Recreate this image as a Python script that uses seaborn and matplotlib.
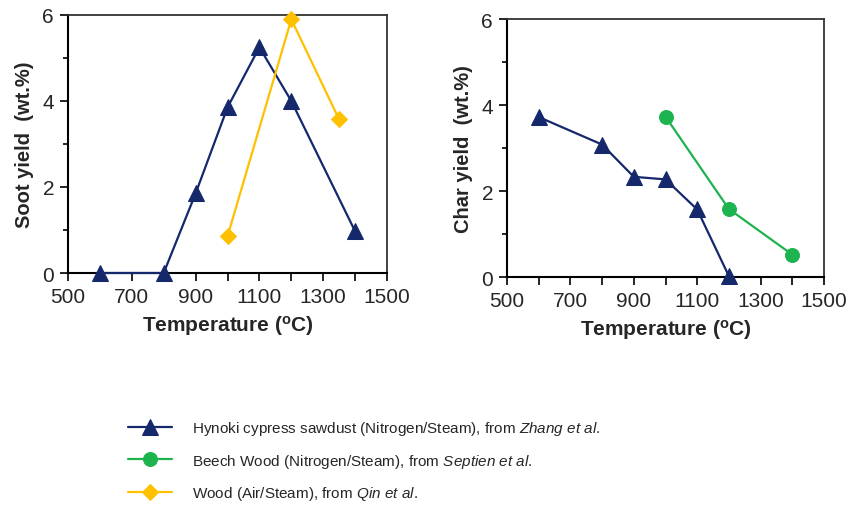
import matplotlib
matplotlib.use("Agg")
import matplotlib.pyplot as plt
from matplotlib.ticker import MultipleLocator
import pandas as pd
import seaborn as sns

# Soot yield data (wt.%) against temperature (°C)
soot_hynoki_temp = [600, 800, 900, 1000, 1100, 1200, 1400]
soot_hynoki_yield = [0.0, 0.0, 1.85, 3.85, 5.25, 4.0, 0.97]
soot_wood_temp = [1000, 1200, 1350]
soot_wood_yield = [0.85, 5.9, 3.57]

# Char yield data (wt.%) against temperature (°C)
char_hynoki_temp = [600, 800, 900, 1000, 1100, 1200]
char_hynoki_yield = [3.72, 3.08, 2.33, 2.27, 1.57, 0.02]
char_beech_temp = [1000, 1200, 1400]
char_beech_yield = [3.73, 1.58, 0.52]

series_labels = [
    r"Hynoki cypress sawdust (Nitrogen/Steam), from $\mathit{Zhang\ et\ al}$.",
    r"Beech Wood (Nitrogen/Steam), from $\mathit{Septien\ et\ al}$.",
    r"Wood (Air/Steam), from $\mathit{Qin\ et\ al}$.",
]
x_ticks = [500, 700, 900, 1100, 1300, 1500]
y_ticks = [0, 2, 4, 6]

NAVY = "#14286b"
GREEN = "#1db34f"
GOLD = "#ffc000"

sns.set_style("white")
plt.rcParams["font.family"] = ["Liberation Sans", "DejaVu Sans"]
plt.rcParams["mathtext.fontset"] = "custom"
plt.rcParams["mathtext.rm"] = "Liberation Sans"
plt.rcParams["mathtext.it"] = "Liberation Sans:italic"
plt.rcParams["mathtext.bf"] = "Liberation Sans:bold"

fig = plt.figure(figsize=(8.49, 5.06), dpi=100)
ax1 = fig.add_axes([68 / 849, 1 - 274 / 506, 319 / 849, 258 / 506])
ax2 = fig.add_axes([507 / 849, 1 - 278 / 506, 317 / 849, 258 / 506])


def draw(ax, x, y, color, marker, ms, label):
    df = pd.DataFrame({"T": x, "Y": y})
    sns.lineplot(data=df, x="T", y="Y", ax=ax, color=color, marker=marker,
                 markersize=ms, markeredgecolor=color, linewidth=1.6,
                 label=label, clip_on=False, zorder=3)


draw(ax1, soot_hynoki_temp, soot_hynoki_yield, NAVY, "^", 11, series_labels[0])
draw(ax1, soot_wood_temp, soot_wood_yield, GOLD, "D", 8, series_labels[2])
draw(ax2, char_hynoki_temp, char_hynoki_yield, NAVY, "^", 11, series_labels[0])
draw(ax2, char_beech_temp, char_beech_yield, GREEN, "o", 10, series_labels[1])

for ax, ylab in [(ax1, "Soot yield  (wt.%)"), (ax2, "Char yield  (wt.%)")]:
    ax.set_xlim(500, 1500)
    ax.set_ylim(0, 6)
    ax.set_xticks(x_ticks)
    ax.xaxis.set_minor_locator(MultipleLocator(100))
    ax.set_yticks(y_ticks)
    ax.yaxis.set_minor_locator(MultipleLocator(1))
    ax.tick_params(axis="both", which="major", direction="out", length=6,
                   width=1.2, color="black", labelsize=15, pad=4, bottom=True, left=True)
    ax.tick_params(axis="both", which="minor", direction="out", length=3.5,
                   width=1.2, color="black", bottom=True, left=True)
    ax.tick_params(axis="x", which="minor", length=6)
    for side in ["left", "bottom"]:
        ax.spines[side].set_color("black")
        ax.spines[side].set_linewidth(1.5)
    for side in ["top", "right"]:
        ax.spines[side].set_visible(True)
        ax.spines[side].set_color("#333333")
        ax.spines[side].set_linewidth(1.3)
    ax.set_xlabel(r"Temperature ($\mathbf{^{o}}$C)", fontsize=15,
                  fontweight="bold", labelpad=5)
    ax.set_ylabel(ylab, fontsize=14.5, fontweight="bold", labelpad=6)
    ax.legend_.remove()

h1, _ = ax1.get_legend_handles_labels()
h2, _ = ax2.get_legend_handles_labels()
handles = [h1[0], h2[1], h1[1]]
fig.legend(handles, series_labels, loc="upper left",
           bbox_to_anchor=(122 / 849, 1 - 414 / 506), frameon=False,
           fontsize=11, handlelength=2.9, handletextpad=1.3,
           labelspacing=0.95, borderaxespad=0)

fig.savefig("out.png", dpi=100, facecolor="white")
